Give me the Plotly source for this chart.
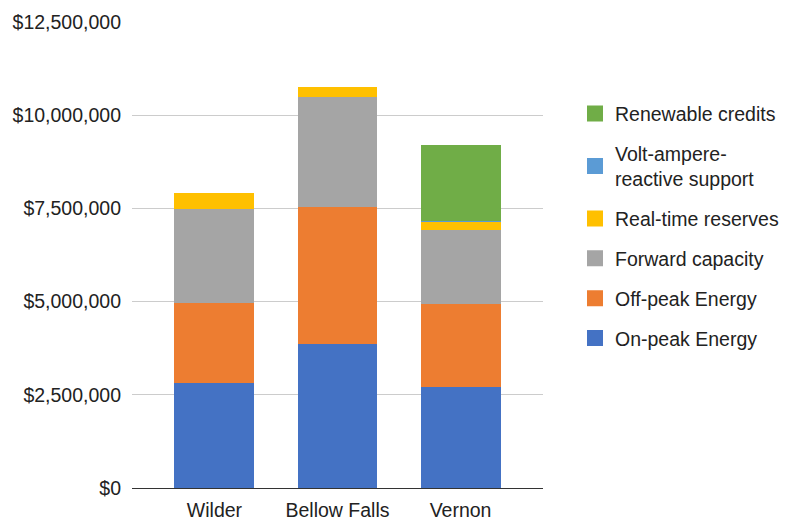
import plotly.graph_objects as go

plants = ["Wilder", "Bellow Falls", "Vernon"]

on_peak = [2830000, 3870000, 2700000]
off_peak = [2140000, 3670000, 2240000]
forward_capacity = [2520000, 2960000, 1970000]
real_time_reserves = [410000, 260000, 230000]
volt_ampere_support = [0, 0, 30000]
renewable_credits = [0, 0, 2020000]

series = [
    ("On-peak Energy", on_peak, "#4472C4"),
    ("Off-peak Energy", off_peak, "#ED7D31"),
    ("Forward capacity", forward_capacity, "#A5A5A5"),
    ("Real-time reserves", real_time_reserves, "#FFC000"),
    ("Volt-ampere-<br>reactive support", volt_ampere_support, "#5B9BD5"),
    ("Renewable credits", renewable_credits, "#70AD47"),
]

tick_vals = [0, 2500000, 5000000, 7500000, 10000000, 12500000]
tick_text = ["$0", "$2,500,000", "$5,000,000", "$7,500,000", "$10,000,000", "$12,500,000"]

FONT = "Liberation Sans, Arial, sans-serif"
TEXT = "#222222"
SIZE = 19.5

fig = go.Figure()
for name, vals, color in series:
    fig.add_trace(go.Bar(
        x=plants, y=vals, name=name, showlegend=False,
        marker=dict(color=color, line=dict(width=0)),
    ))

# square swatches for the legend, top of the stack listed first
for i, (name, vals, color) in enumerate(reversed(series)):
    fig.add_trace(go.Scatter(
        x=[None], y=[None], mode="markers", name=name,
        legendgroup=f"g{i}",
        marker=dict(symbol="square", size=16, color=color),
    ))

fig.update_layout(
    width=787, height=521,
    margin=dict(l=132, r=244, t=22, b=33),
    barmode="stack", bargap=0.35,
    plot_bgcolor="white", paper_bgcolor="white",
    font=dict(family=FONT, size=SIZE, color=TEXT),
    xaxis=dict(
        range=[-0.67, 2.67], showgrid=False, ticks="", automargin=False,
        showline=True, linecolor="#333333", linewidth=1.3,
        ticklabelstandoff=4,
        tickfont=dict(size=SIZE, color=TEXT),
    ),
    yaxis=dict(
        range=[0, 12500000], tickvals=tick_vals, ticktext=tick_text,
        showgrid=True, gridcolor="#CCCCCC", gridwidth=1.3, automargin=False,
        zeroline=False, ticks="", ticklabelstandoff=10,
        tickfont=dict(size=SIZE, color=TEXT),
    ),
    legend=dict(
        xref="container", x=575 / 787, xanchor="left",
        y=0.845, yanchor="top",
        traceorder="grouped", tracegroupgap=11.5,
        font=dict(size=SIZE, color=TEXT),
        bgcolor="rgba(0,0,0,0)",
    ),
)

fig.write_html("out.html")
